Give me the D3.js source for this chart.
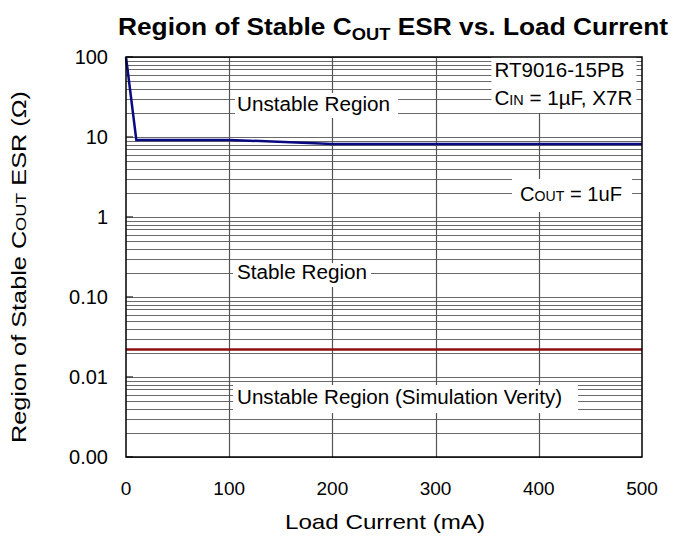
<!DOCTYPE html>
<html>
<head>
<meta charset="utf-8">
<script src="https://cdn.jsdelivr.net/npm/d3@7"></script>
<style>
  body { margin: 0; background: #fff; }
  text { font-family: Arial, "Liberation Sans", sans-serif; fill: #000; }
</style>
</head>
<body>
<script>
// data
const loadCurrent = [0, 10, 100, 200, 300, 400, 500];
const esrUpper    = [100, 9.2, 9.2, 8.2, 8.2, 8.2, 8.2];   // upper stability boundary (blue)
const lowerCurrent = [0, 500];
const esrLower    = [0.022, 0.022];                        // lower stability boundary (red)

const xTicks = [0, 100, 200, 300, 400, 500];
const yTicks = [100, 10, 1, 0.1, 0.01, 0.001];
const yTickLabels = ["100", "10", "1", "0.10", "0.01", "0.00"];

// annotations: text lines ([main, small, rest]), anchor in data units, text widths
const notes = [
  { lines: [["Unstable Region"]], w: [153], x: 107.6, y: 25.9, pad: [2, 8, 11, 14] },
  { lines: [["Stable Region"]], w: [130], x: 107.6, y: 0.205, pad: [4, 4, 9, 15] },
  { lines: [["Unstable Region (Simulation Verity)"]], w: [325], x: 107.6, y: 0.00562, pad: [4, 16, 12, 16] },
  { lines: [["RT9016-15PB"], ["C", "IN", " = 1\u00b5F, X7R"]], w: [130, 138], x: 357, y: 68.8, pad: [3, 4, 14, 15] },
  { lines: [["C", "OUT", " = 1uF"]], w: [102], x: 381.8, y: 1.94, pad: [8, 10, 15, 18] }
];

const W = 674, H = 540;
const M = { left: 126, top: 57, right: 32, bottom: 83 };
const iw = W - M.left - M.right, ih = H - M.top - M.bottom;
const lineH = 28;

const svg = d3.select("body").append("svg")
  .attr("width", W).attr("height", H);

const x = d3.scaleLinear().domain([0, 500]).range([0, iw]);
const y = d3.scaleLog().domain([0.001, 100]).range([ih, 0]);

const g = svg.append("g").attr("transform", `translate(${M.left},${M.top})`);

// title
const title = svg.append("text")
  .attr("x", 118).attr("y", 35)
  .attr("textLength", 550).attr("lengthAdjust", "spacingAndGlyphs")
  .style("font-size", "23px").style("font-weight", "bold");
title.append("tspan").text("Region of Stable C");
title.append("tspan").attr("dy", 5).style("font-size", "16px").text("OUT");
title.append("tspan").attr("dy", -5).text(" ESR vs. Load Current");

// horizontal log grid
g.append("g")
  .selectAll("line")
  .data(y.ticks())
  .join("line")
  .attr("x1", 0).attr("x2", iw)
  .attr("y1", d => Math.round(y(d)) + 0.5).attr("y2", d => Math.round(y(d)) + 0.5)
  .attr("stroke", "#6a6a6a").attr("stroke-width", 1);

// vertical grid
g.append("g")
  .selectAll("line")
  .data(xTicks.slice(1, -1))
  .join("line")
  .attr("x1", d => Math.round(x(d)) + 0.5).attr("x2", d => Math.round(x(d)) + 0.5)
  .attr("y1", 0).attr("y2", ih)
  .attr("stroke", "#555").attr("stroke-width", 1.2);

// small ticks on left edge
g.append("g")
  .selectAll("line")
  .data(yTicks)
  .join("line")
  .attr("x1", 0).attr("x2", 7)
  .attr("y1", d => y(d)).attr("y2", d => y(d))
  .attr("stroke", "#444").attr("stroke-width", 1.5);

// annotation boxes (white, hiding the grid behind the text)
notes.forEach(n => {
  const ng = g.append("g");
  const box = ng.append("rect").attr("fill", "#fff");
  const tx = x(n.x), ty = y(n.y);
  n.lines.forEach((parts, li) => {
    const t = ng.append("text")
      .attr("x", tx).attr("y", ty + li * lineH + 7)
      .attr("textLength", n.w[li]).attr("lengthAdjust", "spacingAndGlyphs")
      .style("font-size", "20px");
    parts.forEach((p, pi) => {
      const ts = t.append("tspan").text(p);
      if (pi === 1) ts.style("font-size", "14px");
    });
  });
  const widest = d3.max(n.w);
  box.attr("x", tx - n.pad[0])
    .attr("width", widest + n.pad[0] + n.pad[1])
    .attr("y", ty - n.pad[2])
    .attr("height", n.pad[2] + n.pad[3] + (n.lines.length - 1) * lineH);
});

// data lines
const line = d3.line().x(d => x(d[0])).y(d => y(d[1]));

g.append("path")
  .datum(d3.zip(loadCurrent, esrUpper))
  .attr("d", line)
  .attr("fill", "none").attr("stroke", "#0a0a80").attr("stroke-width", 2.5);

g.append("path")
  .datum(d3.zip(lowerCurrent, esrLower))
  .attr("d", line)
  .attr("fill", "none").attr("stroke", "#8e0f0f").attr("stroke-width", 2.5);

// frame
g.append("rect")
  .attr("x", 0).attr("y", 0).attr("width", iw).attr("height", ih)
  .attr("fill", "none").attr("stroke", "#000").attr("stroke-width", 1.5);

// tick labels
g.append("g")
  .selectAll("text")
  .data(xTicks)
  .join("text")
  .attr("x", d => x(d)).attr("y", ih + 38)
  .attr("text-anchor", "middle")
  .style("font-size", "19px")
  .text(d => d);

g.append("g")
  .selectAll("text")
  .data(yTicks)
  .join("text")
  .attr("x", -18).attr("y", d => y(d) + 7)
  .attr("text-anchor", "end")
  .style("font-size", "20px")
  .text((d, i) => yTickLabels[i]);

// axis titles
svg.append("text")
  .attr("x", 285).attr("y", 529)
  .attr("textLength", 200).attr("lengthAdjust", "spacingAndGlyphs")
  .style("font-size", "21px")
  .text("Load Current (mA)");

const yt = svg.append("text")
  .attr("transform", `translate(26,443) rotate(-90)`)
  .attr("textLength", 352).attr("lengthAdjust", "spacingAndGlyphs")
  .style("font-size", "21px");
yt.append("tspan").text("Region of Stable C");
yt.append("tspan").style("font-size", "15px").text("OUT");
yt.append("tspan").text(" ESR (\u03a9)");
</script>
</body>
</html>
